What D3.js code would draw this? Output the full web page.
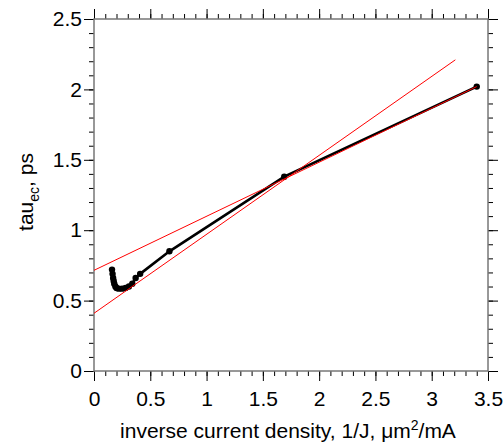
<!DOCTYPE html>
<html>
<head>
<meta charset="utf-8">
<script src="https://cdn.jsdelivr.net/npm/d3@7"></script>
<style>
  body { margin: 0; background: #fff; }
  svg text { font-family: "Liberation Sans", Arial, sans-serif; fill: #000; }
</style>
</head>
<body>
<svg id="chart" width="504" height="443"></svg>
<script>
// measured points: inverse current density vs tau_ec
const invJ = [0.16, 0.165, 0.17, 0.175, 0.18, 0.19, 0.2, 0.22, 0.25, 0.28, 0.31, 0.34, 0.37, 0.41, 0.67, 1.69, 3.40];
const tauEc = [0.72, 0.69, 0.66, 0.64, 0.62, 0.60, 0.59, 0.585, 0.585, 0.59, 0.60, 0.62, 0.66, 0.69, 0.85, 1.38, 2.02];

// red fit lines, [x0, y0, x1, y1]
const fitSteep = [0, 0.41, 3.21, 2.21];
const fitShallow = [0, 0.715, 3.4, 2.02];

const xTicks = [0, 0.5, 1, 1.5, 2, 2.5, 3, 3.5];
const yTicks = [0, 0.5, 1, 1.5, 2, 2.5];

const svg = d3.select("#chart");
const plotL = 94, plotR = 488, plotT = 19, plotB = 371;

const x = d3.scaleLinear().domain([0, 3.5]).range([plotL, plotR]);
const y = d3.scaleLinear().domain([0, 2.5]).range([plotB, plotT]);

const minorX = d3.range(0, 3.5001, 0.1);
const minorY = d3.range(0, 2.5001, 0.1);
const fmt = d3.format("");

function drawAxis(axisFn, scale, pos, transform, withLabels, pad) {
    // minor ticks first
    svg.append("g")
        .attr("transform", transform)
        .call(axisFn(scale).tickValues(pos === "x" ? minorX : minorY).tickSize(5).tickFormat(""))
        .call(g => g.select(".domain").remove());
    const g = svg.append("g")
        .attr("transform", transform)
        .call(axisFn(scale).tickValues(pos === "x" ? xTicks : yTicks).tickSize(10).tickPadding(pad)
            .tickFormat(withLabels ? fmt : ""));
    g.select(".domain").remove();
    g.selectAll("text").style("font-size", "21px");
    return g;
}

drawAxis(d3.axisBottom, x, "x", `translate(0,${plotB})`, true, 10);
drawAxis(d3.axisTop, x, "x", `translate(0,${plotT})`, false, 3);
drawAxis(d3.axisLeft, y, "y", `translate(${plotL},0)`, true, 2);
drawAxis(d3.axisRight, y, "y", `translate(${plotR},0)`, false, 3);

// frame lines
svg.append("rect")
    .attr("x", plotL).attr("y", plotT)
    .attr("width", plotR - plotL).attr("height", plotB - plotT)
    .attr("fill", "none")
    .attr("stroke", "#777")
    .attr("stroke-width", 1.5);

// data line + dots
const pts = invJ.map((v, i) => [v, tauEc[i]]);
svg.append("path")
    .datum(pts)
    .attr("d", d3.line().x(d => x(d[0])).y(d => y(d[1])))
    .attr("fill", "none")
    .attr("stroke", "#000")
    .attr("stroke-width", 2.6);

svg.selectAll(".dot")
    .data(pts)
    .enter()
    .append("circle")
    .attr("cx", d => x(d[0]))
    .attr("cy", d => y(d[1]))
    .attr("r", 3.2)
    .attr("fill", "#000");

// fits
[fitSteep, fitShallow].forEach(f => {
    svg.append("line")
        .attr("x1", x(f[0])).attr("y1", y(f[1]))
        .attr("x2", x(f[2])).attr("y2", y(f[3]))
        .attr("stroke", "#ff0000")
        .attr("stroke-width", 1);
});

// axis titles
const xl = svg.append("text")
    .attr("x", 288)
    .attr("y", 438)
    .attr("text-anchor", "middle")
    .style("font-size", "21px");
xl.append("tspan").text("inverse current density, 1/J, \u03bcm");
xl.append("tspan").attr("dy", -8).style("font-size", "14px").text("2");
xl.append("tspan").attr("dy", 8).text("/mA");

const yl = svg.append("text")
    .attr("transform", `translate(33,192) rotate(-90)`)
    .attr("text-anchor", "middle")
    .style("font-size", "21px");
yl.append("tspan").text("tau");
yl.append("tspan").attr("dy", 6).style("font-size", "14px").text("ec");
yl.append("tspan").attr("dy", -6).text(", ps");
</script>
</body>
</html>
